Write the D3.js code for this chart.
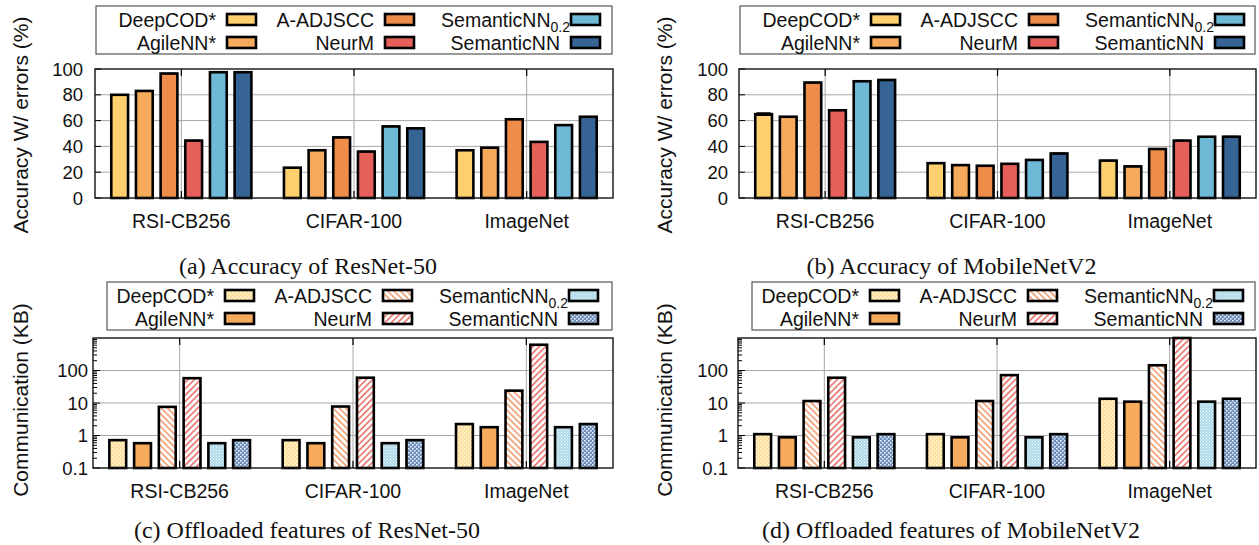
<!DOCTYPE html>
<html><head><meta charset="utf-8">
<script src="https://cdn.jsdelivr.net/npm/d3@7"></script>
<style>
html,body{margin:0;padding:0;background:#fff;}
svg{display:block;}
</style></head>
<body>
<svg id="chart" width="1259" height="545"></svg>
<script>
// ---------- data ----------
const categories = ["RSI-CB256", "CIFAR-100", "ImageNet"];
const methods = ["DeepCOD*", "AgileNN*", "A-ADJSCC", "NeurM", "SemanticNN0.2", "SemanticNN"];

// accuracy (%) – rows: methods, cols: categories
const accResNet = [
  [80, 23.5, 37],
  [83, 37, 39],
  [96.5, 47, 61],
  [44.5, 36, 43.5],
  [97.5, 55.5, 56.5],
  [97.5, 54, 63]
];
const errResNet = [
  [0.6, 0.6, 0.6],
  [0.6, 0.6, 0.6],
  [0.6, 0.6, 0.6],
  [0.6, 0.6, 0.6],
  [0.6, 0.6, 0.6],
  [0.6, 0.6, 0.6]
];
const accMobile = [
  [65, 27, 29],
  [63, 25.5, 24.5],
  [89.5, 25, 38],
  [68, 26.5, 44.5],
  [90.5, 29.5, 47.5],
  [91.5, 34.5, 47.5]
];
const errMobile = [
  [1.4, 0.6, 0.6],
  [0.6, 0.6, 0.6],
  [0.6, 0.6, 0.6],
  [0.6, 0.6, 0.6],
  [0.6, 0.6, 0.6],
  [0.8, 0.8, 0.8]
];
// communication (KB)
const commResNet = [
  [0.72, 0.72, 2.25],
  [0.58, 0.58, 1.8],
  [7.6, 7.8, 24],
  [58, 60, 620],
  [0.58, 0.58, 1.8],
  [0.72, 0.72, 2.25]
];
const commMobile = [
  [1.1, 1.1, 13.5],
  [0.88, 0.88, 11],
  [11.5, 11.5, 145],
  [60, 72, 1000],
  [0.88, 0.88, 11],
  [1.1, 1.1, 13.5]
];
const accTicks = [0, 20, 40, 60, 80, 100];
const commTicks = [0.1, 1, 10, 100];

// ---------- styles ----------
const solidColors = ["#FED06E", "#F6AA5B", "#EE8C49", "#E6605A", "#6EBAD6", "#366494"];
const patternIds = ["p-deepcod", "p-agile", "p-adj", "p-neurm", "p-sem02", "p-sem"];

const svg = d3.select("#chart");
const defs = svg.append("defs");

function patDots(id, bg, dot, size, r) {
  const p = defs.append("pattern").attr("id", id).attr("patternUnits", "userSpaceOnUse")
    .attr("width", size).attr("height", size);
  p.append("rect").attr("width", size).attr("height", size).attr("fill", bg);
  p.append("rect").attr("x", 0).attr("y", 0).attr("width", r).attr("height", r).attr("fill", dot);
  p.append("rect").attr("x", size / 2).attr("y", size / 2).attr("width", r).attr("height", r).attr("fill", dot);
}
function patLines(id, color, dir) {
  const s = 4.5;
  const p = defs.append("pattern").attr("id", id).attr("patternUnits", "userSpaceOnUse")
    .attr("width", s).attr("height", s)
    .attr("patternTransform", `rotate(${dir > 0 ? 45 : -45})`);
  p.append("rect").attr("width", s).attr("height", s).attr("fill", "#fff");
  p.append("rect").attr("x", 0).attr("y", 0).attr("width", 1.7).attr("height", s).attr("fill", color);
}
patDots("p-deepcod", "#FEE09A", "#ffffff", 4, 1.3);
{
  const p = defs.append("pattern").attr("id", "p-agile").attr("patternUnits", "userSpaceOnUse")
    .attr("width", 4).attr("height", 4);
  p.append("rect").attr("width", 4).attr("height", 4).attr("fill", "#F6AA5B");
}
patLines("p-adj", "#F2A277", -1);
patLines("p-neurm", "#E87A72", 1);
patDots("p-sem02", "#ABD9EA", "#ffffff", 3, 1);
patDots("p-sem", "#6E8EBB", "#E9EFF7", 4, 1.6);

const sans = "'Liberation Sans', Arial, Helvetica, sans-serif";
const serif = "'Liberation Serif', 'Times New Roman', serif";

const panels = [
  { left: 95, right: 613, top: 69, bottom: 198, kind: "acc", data: accResNet, err: errResNet,
    legend: { x: 96, y: 6, w: 516, h: 48 }, title: "Accuracy W/ errors (%)", titleX: 21,
    caption: "(a) Accuracy of ResNet-50", capY: 274, labelGap: 12 },
  { left: 739, right: 1256, top: 69, bottom: 198, kind: "acc", data: accMobile, err: errMobile,
    legend: { x: 740, y: 6, w: 515, h: 48 }, title: "Accuracy W/ errors (%)", titleX: 665,
    caption: "(b) Accuracy of MobileNetV2", capY: 274, labelGap: 11 },
  { left: 93, right: 613, top: 338, bottom: 468, kind: "comm", data: commResNet,
    legend: { x: 107, y: 282, w: 505, h: 48 }, title: "Communication (KB)", titleX: 21,
    caption: "(c) Offloaded features of ResNet-50", capY: 538, labelGap: 5 },
  { left: 738, right: 1256, top: 338, bottom: 468, kind: "comm", data: commMobile,
    legend: { x: 752, y: 282, w: 503, h: 48 }, title: "Communication (KB)", titleX: 665,
    caption: "(d) Offloaded features of MobileNetV2", capY: 538, labelGap: 10 }
];

panels.forEach(P => {
  const g = svg.append("g");
  const x0 = d3.scaleBand().domain(categories).range([P.left, P.right]).paddingInner(0).paddingOuter(0);
  const x1 = d3.scaleBand().domain(methods).range([0, x0.bandwidth()]).paddingInner(0).paddingOuter(0.5);
  const y = P.kind === "acc"
    ? d3.scaleLinear().domain([0, 100]).range([P.bottom, P.top])
    : d3.scaleLog().domain([0.1, 1000]).range([P.bottom, P.top]).clamp(true);

  // grid
  const gridVals = P.kind === "acc" ? [20, 40, 60, 80] : [1, 10, 100];
  g.selectAll(".hg").data(gridVals).join("line")
    .attr("x1", P.left).attr("x2", P.right)
    .attr("y1", d => y(d)).attr("y2", d => y(d))
    .attr("stroke", "#a8a8a8").attr("stroke-width", 1);
  g.selectAll(".vg").data(categories).join("line")
    .attr("x1", d => x0(d) + x0.bandwidth() / 2).attr("x2", d => x0(d) + x0.bandwidth() / 2)
    .attr("y1", P.top).attr("y2", P.bottom)
    .attr("stroke", "#a8a8a8").attr("stroke-width", 1);
  // x ticks (top & bottom, inward)
  categories.forEach(c => {
    const cx = x0(c) + x0.bandwidth() / 2;
    g.append("line").attr("x1", cx).attr("x2", cx).attr("y1", P.top).attr("y2", P.top + 7)
      .attr("stroke", "#000").attr("stroke-width", 1.2);
    g.append("line").attr("x1", cx).attr("x2", cx).attr("y1", P.bottom).attr("y2", P.bottom - 7)
      .attr("stroke", "#000").attr("stroke-width", 1.2);
  });

  // y ticks
  if (P.kind === "acc") {
    accTicks.forEach(t => {
      g.append("line").attr("x1", P.left).attr("x2", P.left + 6).attr("y1", y(t)).attr("y2", y(t))
        .attr("stroke", "#000").attr("stroke-width", 1);
    });
  } else {
    for (let e = -1; e < 3; e++) {
      for (let k = 1; k <= 9; k++) {
        const v = k * Math.pow(10, e);
        g.append("line").attr("x1", P.left).attr("x2", P.left + (k === 1 ? 7 : 4))
          .attr("y1", y(v)).attr("y2", y(v)).attr("stroke", "#000").attr("stroke-width", 1);
      }
    }
  }
  const ticks = P.kind === "acc" ? accTicks : commTicks;
  g.selectAll(".yl").data(ticks).join("text")
    .attr("x", P.left - P.labelGap).attr("y", d => y(d)).attr("dy", "0.36em")
    .attr("text-anchor", "end").attr("font-family", sans).attr("font-size", 18.5).attr("fill", "#111")
    .text(d => P.kind === "acc" ? d3.format("d")(d) : (d < 1 ? "0.1" : d3.format("d")(d)));

  // bars
  methods.forEach((m, mi) => {
    const bw = x1.bandwidth() * 0.68;
    categories.forEach((c, ci) => {
      const v = P.data[mi][ci];
      const bx = x0(c) + x1(m) + (x1.bandwidth() - bw) / 2;
      const fill = P.kind === "acc" ? solidColors[mi] : `url(#${patternIds[mi]})`;
      const yb = P.kind === "acc" ? y(0) : y(0.1);
      g.append("rect").attr("x", bx).attr("y", y(v)).attr("width", bw).attr("height", yb - y(v))
        .attr("fill", fill).attr("stroke", "#000").attr("stroke-width", 2.6);
      if (P.kind === "acc") {
        const e = P.err[mi][ci];
        g.append("rect").attr("x", bx + 0.5).attr("y", y(v + e)).attr("width", bw - 1)
          .attr("height", Math.max(1.5, y(v - e) - y(v + e)))
          .attr("fill", "#000").attr("rx", 1.5);
      }
    });
  });

  // frame
  g.append("rect").attr("x", P.left).attr("y", P.top).attr("width", P.right - P.left)
    .attr("height", P.bottom - P.top).attr("fill", "none").attr("stroke", "#111").attr("stroke-width", 1.4);

  // category labels
  g.selectAll(".xl").data(categories).join("text")
    .attr("x", d => x0(d) + x0.bandwidth() / 2).attr("y", P.bottom + 30)
    .attr("text-anchor", "middle").attr("font-family", sans).attr("font-size", 19.5).attr("fill", "#111")
    .text(d => d);

  // y title
  g.append("text").attr("transform", `translate(${P.titleX},${(P.kind === "acc" ? 125 : 400)}) rotate(-90)`)
    .attr("text-anchor", "middle").attr("dy", "0.35em").attr("font-family", sans).attr("font-size", 21)
    .attr("fill", "#111").text(P.title);

  // caption
  g.append("text").attr("x", (P.left + P.right) / 2 - 46).attr("y", P.capY)
    .attr("text-anchor", "middle").attr("font-family", serif).attr("font-size", 24).attr("fill", "#111")
    .text(P.caption);

  // legend
  const L = P.legend;
  g.append("rect").attr("x", L.x).attr("y", L.y).attr("width", L.w).attr("height", L.h)
    .attr("fill", "#fff").attr("stroke", "#555").attr("stroke-width", 1.2);
  const swOff = [132, 290, 476];
  methods.forEach((m, mi) => {
    const col = Math.floor(mi / 2), row = mi % 2;
    const sx = P.left + swOff[col];
    const sy = L.y + 14 + row * 23;
    const fill = P.kind === "acc" ? solidColors[mi] : `url(#${patternIds[mi]})`;
    g.append("rect").attr("x", sx).attr("y", sy - 6).attr("width", 29).attr("height", 11)
      .attr("fill", fill).attr("stroke", "#000").attr("stroke-width", 2.6);
    const t = g.append("text").attr("x", sx - 11).attr("y", sy).attr("dy", "0.35em")
      .attr("text-anchor", "end").attr("font-family", sans).attr("font-size", 19.5).attr("fill", "#111");
    if (m === "SemanticNN0.2") {
      t.attr("x", sx - 1);
      t.append("tspan").text("SemanticNN");
      t.append("tspan").attr("font-size", 14).attr("dy", 5).text("0.2");
    } else {
      t.text(m);
    }
  });
});
</script>
</body></html>
